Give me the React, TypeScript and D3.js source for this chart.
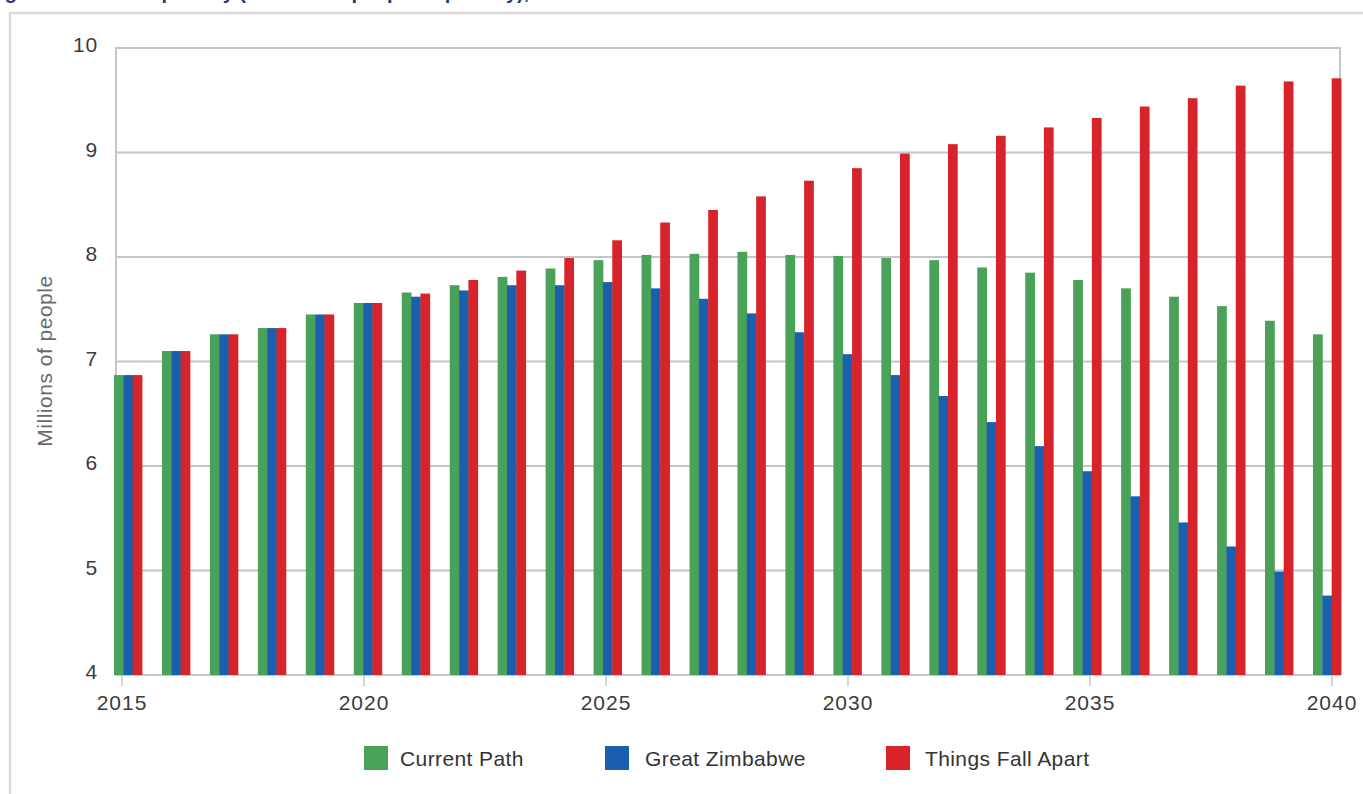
import * as d3 from 'd3';
import { useEffect, useRef } from 'react';

const years = d3.range(2015, 2041);
const seriesNames = ['Current Path', 'Great Zimbabwe', 'Things Fall Apart'];
const seriesColors = ['#49a257', '#1b60ae', '#d7242b'];

const currentPath = [
  6.87, 7.1, 7.26, 7.32, 7.45, 7.56, 7.66, 7.73, 7.81, 7.89, 7.97, 8.02, 8.03,
  8.05, 8.02, 8.01, 7.99, 7.97, 7.9, 7.85, 7.78, 7.7, 7.62, 7.53, 7.39, 7.26,
];
const greatZimbabwe = [
  6.87, 7.1, 7.26, 7.32, 7.45, 7.56, 7.62, 7.68, 7.73, 7.73, 7.76, 7.7, 7.6,
  7.46, 7.28, 7.07, 6.87, 6.67, 6.42, 6.19, 5.95, 5.71, 5.46, 5.23, 4.99, 4.76,
];
const thingsFallApart = [
  6.87, 7.1, 7.26, 7.32, 7.45, 7.56, 7.65, 7.78, 7.87, 7.99, 8.16, 8.33, 8.45,
  8.58, 8.73, 8.85, 8.99, 9.08, 9.16, 9.24, 9.33, 9.44, 9.52, 9.64, 9.68, 9.71,
];
const yTicks = [4, 5, 6, 7, 8, 9, 10];
const xTicks = [2015, 2020, 2025, 2030, 2035, 2040];

const App = () => {
  const ref = useRef<SVGSVGElement | null>(null);

  useEffect(() => {
    const width = 1363;
    const height = 794;
    const font = '"Liberation Sans", Arial, sans-serif';
    const left = 116;
    const right = 1340;
    const top = 48;
    const bottom = 675;

    const svg = d3.select(ref.current).attr('width', width).attr('height', height);
    svg.selectAll('*').remove();

    const allSeries = [currentPath, greatZimbabwe, thingsFallApart];

    // scales
    const y = d3.scaleLinear().domain([4, 10]).range([bottom, top]);
    const x = d3
      .scaleBand<number>()
      .domain(years)
      .range([114, 1341])
      .paddingInner(0.416)
      .paddingOuter(0);
    const xSub = d3.scaleBand<number>().domain([0, 1, 2]).range([0, x.bandwidth()]);
    const xTick = d3.scaleLinear().domain([2015, 2040]).range([122, 1332]);

    // outer frame
    svg
      .append('path')
      .attr('d', `M10,${height} V13 H${width}`)
      .attr('fill', 'none')
      .attr('stroke', '#d9d9d9')
      .attr('stroke-width', 2.5);

    // title (cut off at the top, as in the source page)
    svg
      .append('text')
      .attr('x', -13)
      .attr('y', -1)
      .attr('font-family', font)
      .attr('font-size', 20)
      .attr('font-weight', 'bold')
      .attr('fill', '#1d3c7c')
      .text('Figure 8: Extreme poverty (millions of people in poverty), 2015–2040');

    // gridlines
    svg
      .append('g')
      .selectAll('line')
      .data(yTicks)
      .join('line')
      .attr('x1', left)
      .attr('x2', right)
      .attr('y1', (d) => y(d))
      .attr('y2', (d) => y(d))
      .attr('stroke', '#c6c6c8')
      .attr('stroke-width', 2);

    // plot box
    svg
      .append('rect')
      .attr('x', left)
      .attr('y', top)
      .attr('width', right - left)
      .attr('height', bottom - top)
      .attr('fill', 'none')
      .attr('stroke', '#c6c6c8')
      .attr('stroke-width', 2);

    // x tick marks
    svg
      .append('g')
      .selectAll('line')
      .data(xTicks)
      .join('line')
      .attr('x1', (d) => xTick(d))
      .attr('x2', (d) => xTick(d))
      .attr('y1', bottom)
      .attr('y2', bottom + 11)
      .attr('stroke', '#c6c6c8')
      .attr('stroke-width', 1.5);

    // bars
    allSeries.forEach((values, si) => {
      svg
        .append('g')
        .selectAll('rect')
        .data(values)
        .join('rect')
        .attr('x', (_, i) => (x(years[i]) as number) + (xSub(si) as number))
        .attr('y', (d) => y(d))
        .attr('width', xSub.bandwidth() + 0.4)
        .attr('height', (d) => bottom - y(d))
        .attr('fill', seriesColors[si]);
    });

    // y labels
    svg
      .append('g')
      .selectAll('text')
      .data(yTicks)
      .join('text')
      .attr('x', 98)
      .attr('y', (d) => y(d) - 3)
      .attr('dy', '0.35em')
      .attr('text-anchor', 'end')
      .attr('font-family', font)
      .attr('font-size', 21)
      .attr('letter-spacing', 0.8)
      .attr('fill', '#3c3c3c')
      .text((d) => d);

    // x labels
    svg
      .append('g')
      .selectAll('text')
      .data(xTicks)
      .join('text')
      .attr('x', (d) => xTick(d))
      .attr('y', 710)
      .attr('text-anchor', 'middle')
      .attr('font-family', font)
      .attr('font-size', 21)
      .attr('letter-spacing', 1)
      .attr('fill', '#3c3c3c')
      .text((d) => d);

    // y axis title
    svg
      .append('text')
      .attr('transform', 'translate(52,361) rotate(-90)')
      .attr('text-anchor', 'middle')
      .attr('font-family', font)
      .attr('font-size', 21)
      .attr('letter-spacing', 0.5)
      .attr('fill', '#6a6a6a')
      .text('Millions of people');

    // legend
    const legendX = [364, 605, 886];
    const legendTextX = [400, 645, 925];
    const legend = svg
      .append('g')
      .selectAll('g')
      .data(seriesNames)
      .join('g');
    legend
      .append('rect')
      .attr('x', (_, i) => legendX[i])
      .attr('y', 746)
      .attr('width', 24)
      .attr('height', 24)
      .attr('fill', (_, i) => seriesColors[i]);
    legend
      .append('text')
      .attr('x', (_, i) => legendTextX[i])
      .attr('y', 766)
      .attr('font-family', font)
      .attr('font-size', 21)
      .attr('letter-spacing', 0.4)
      .attr('fill', '#333')
      .text((d) => d);
  }, []);

  return <svg ref={ref} style={{ position: 'absolute', left: 0, top: 0 }}></svg>;
};

export default App;
